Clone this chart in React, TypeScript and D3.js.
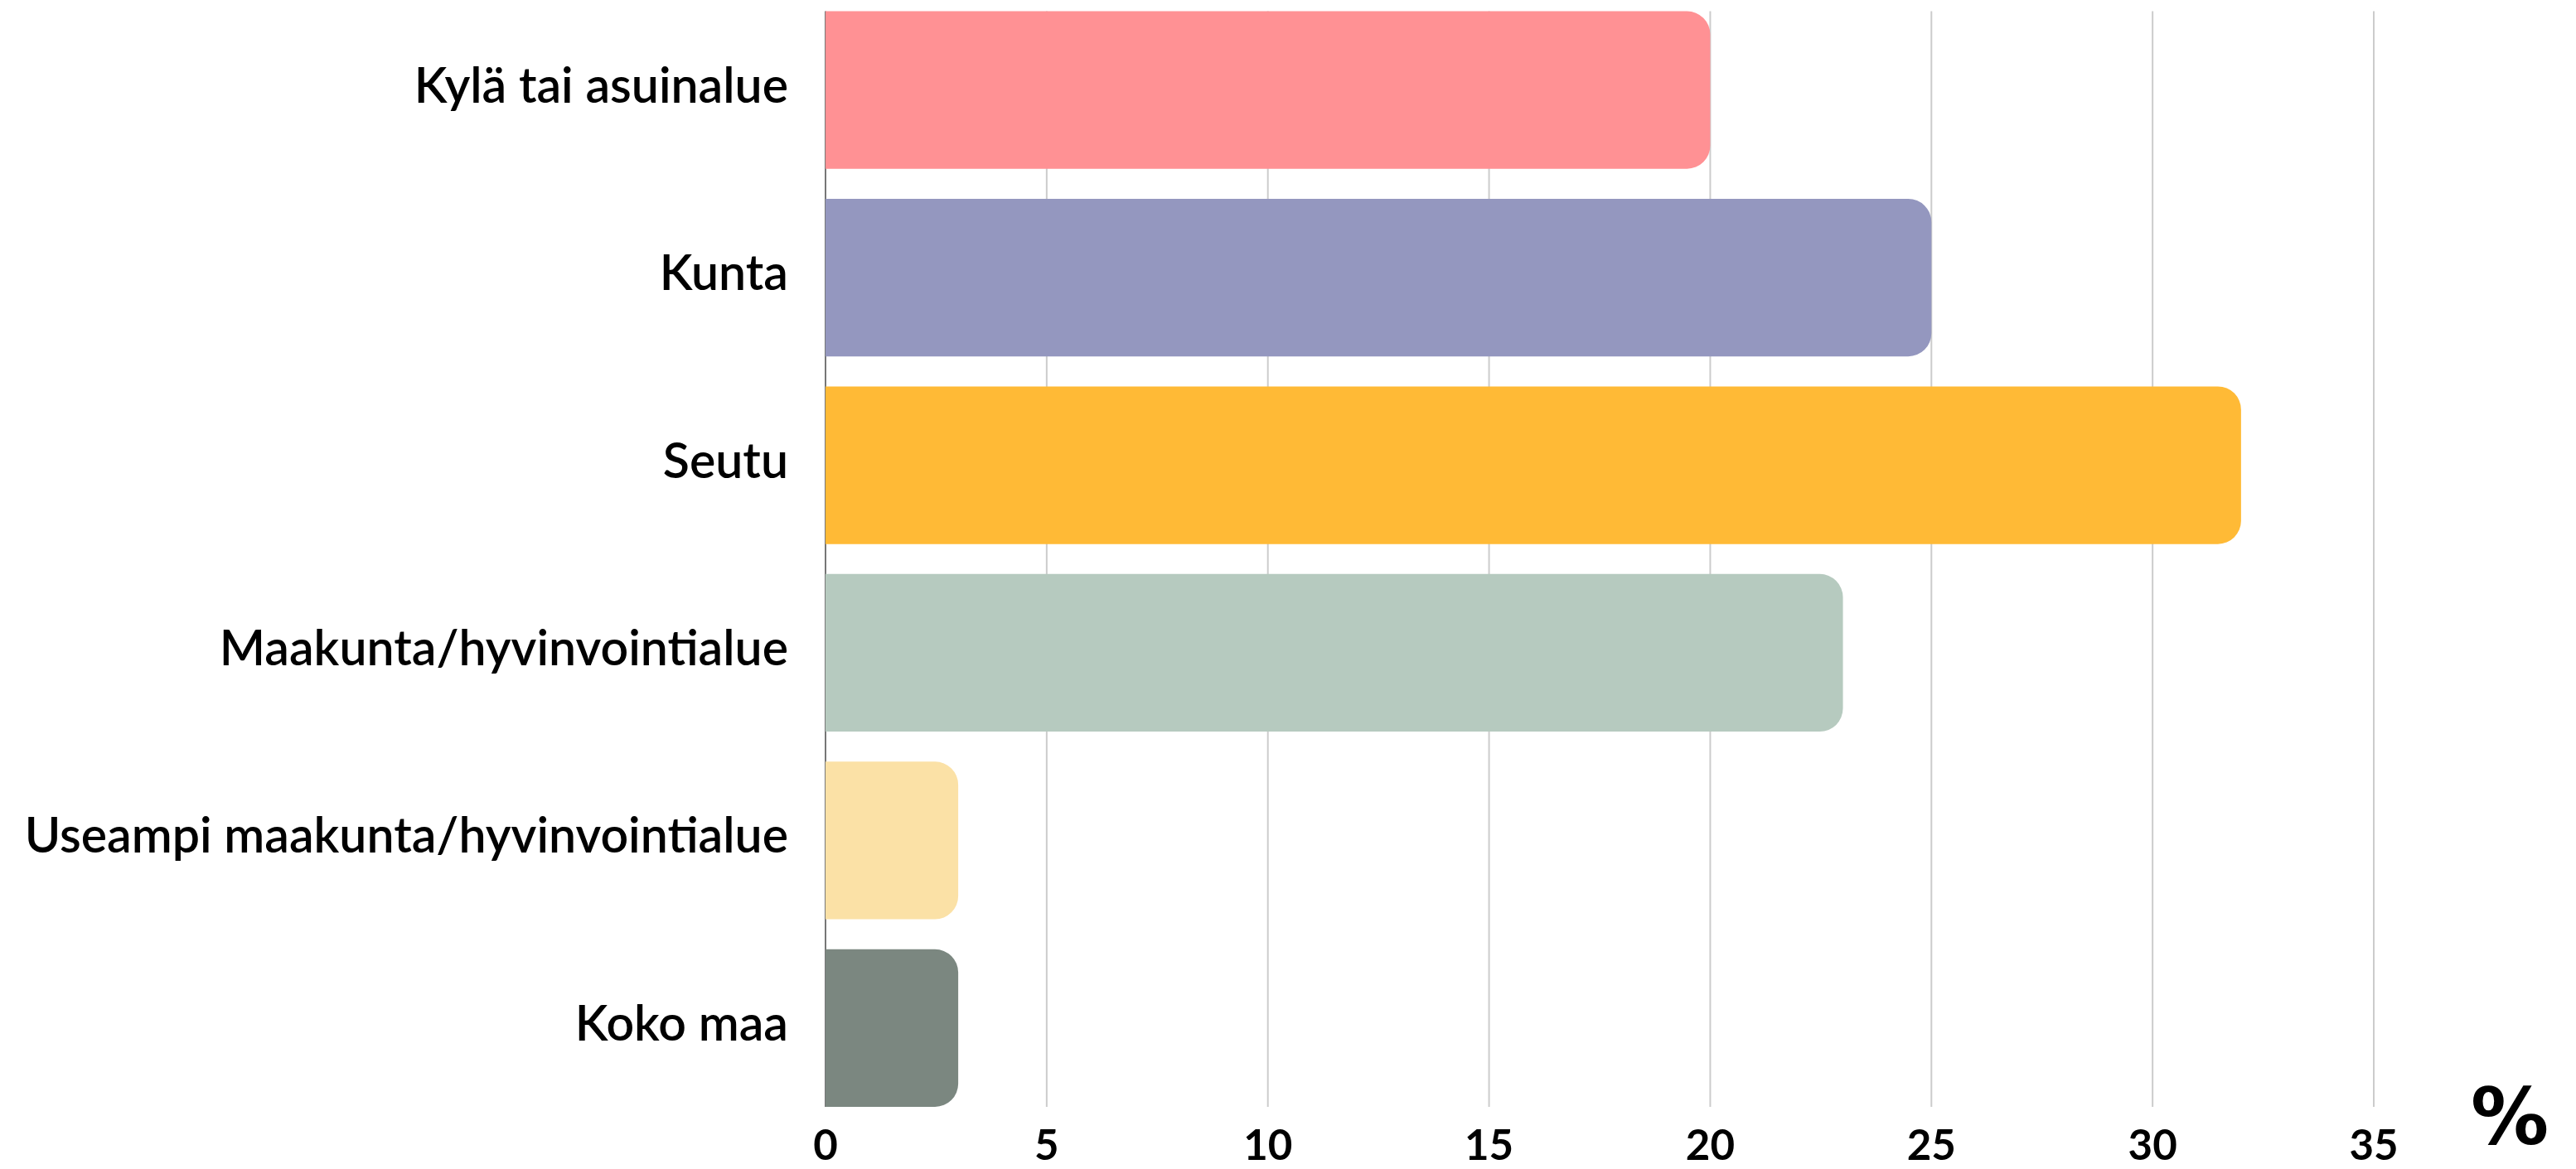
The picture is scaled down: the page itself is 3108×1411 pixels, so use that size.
import React from "react";
import * as d3 from "d3";

const categories = [
  "Kylä tai asuinalue",
  "Kunta",
  "Seutu",
  "Maakunta/hyvinvointialue",
  "Useampi maakunta/hyvinvointialue",
  "Koko maa",
];
const values = [20, 25, 32, 23, 3, 3];
const colors = ["#FF9194", "#9497BF", "#FFBA36", "#B6CABF", "#FBE1A6", "#7B8780"];
const xTicks = [0, 5, 10, 15, 20, 25, 30, 35];
const unitLabel = "%";

const W = 3108;
const H = 1411;
const FONT = "Lato, 'Open Sans', sans-serif";

export default function App() {
  const x = d3.scaleLinear().domain([0, 35]).range([996, 2864]);
  const y = d3
    .scaleBand<string>()
    .domain(categories)
    .range([13.5, 1336])
    .paddingInner(0.16)
    .paddingOuter(0);
  const r = 28;

  const barPath = (v: number, c: string) => {
    const x0 = x(0);
    const x1 = x(v);
    const y0 = y(c)!;
    const h = y.bandwidth();
    const rr = Math.min(r, x1 - x0, h / 2);
    const p = d3.path();
    p.moveTo(x0, y0);
    p.lineTo(x1 - rr, y0);
    p.arcTo(x1, y0, x1, y0 + rr, rr);
    p.lineTo(x1, y0 + h - rr);
    p.arcTo(x1, y0 + h, x1 - rr, y0 + h, rr);
    p.lineTo(x0, y0 + h);
    p.closePath();
    return p.toString();
  };

  const [yTop, yBot] = y.range();

  return (
    <svg
      width={W}
      height={H}
      style={{ position: "absolute", left: 0, top: 0, background: "#fff" }}
      fontFamily={FONT}
    >
      {xTicks.slice(1).map((t) => (
        <line
          key={"g" + t}
          x1={x(t)}
          x2={x(t)}
          y1={yTop}
          y2={yBot}
          stroke="#cccccc"
          strokeWidth={2}
        />
      ))}
      <line x1={x(0)} x2={x(0)} y1={yTop} y2={yBot} stroke="#777" strokeWidth={2} />
      {categories.map((c, i) => (
        <path key={c} d={barPath(values[i], c)} fill={colors[i]} />
      ))}
      {categories.map((c) => (
        <text
          key={"l" + c}
          x={951}
          y={y(c)! + y.bandwidth() / 2 + 15}
          textAnchor="end"
          fontSize={59}
          fontWeight={600}
          fill="#000"
        >
          {c}
        </text>
      ))}
      {xTicks.map((t) => (
        <text
          key={"t" + t}
          x={x(t)}
          y={1400}
          textAnchor="middle"
          fontSize={51}
          fontWeight={700}
          fill="#000"
        >
          {t}
        </text>
      ))}
      <text
        x={3028}
        y={1381}
        textAnchor="middle"
        fontSize={94}
        fontWeight={700}
        fontFamily="'DejaVu Sans', sans-serif"
        fill="#000"
      >
        {unitLabel}
      </text>
    </svg>
  );
}
